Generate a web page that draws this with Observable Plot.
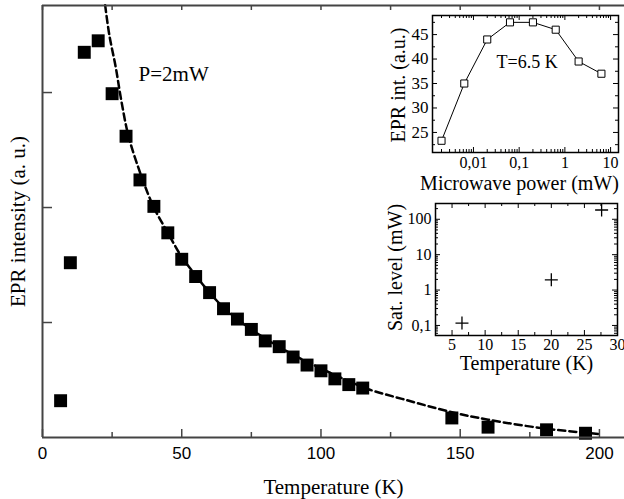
<!DOCTYPE html>
<html><head><meta charset="utf-8">
<script src="https://cdn.jsdelivr.net/npm/d3@7"></script>
<script src="https://cdn.jsdelivr.net/npm/@observablehq/plot@0.6"></script>
<style>
body{margin:0;background:#fff;}
#wrap{position:relative;width:624px;height:499px;overflow:hidden;background:#fff;}
#wrap svg{position:absolute;overflow:visible;}
</style></head><body><div id="wrap"></div>
<script>
// ---------- main data ----------
const mainTemp = [6.5, 10, 15, 20, 25, 30, 35, 40, 45, 50, 55, 60, 65, 70, 75, 80, 85, 90, 95, 100, 105, 110, 115, 147, 160, 181, 195];
const mainInt  = [0.32, 1.52, 3.35, 3.45, 2.99, 2.62, 2.24, 2.01, 1.78, 1.55, 1.40, 1.26, 1.12, 1.03, 0.94, 0.84, 0.79, 0.70, 0.63, 0.58, 0.51, 0.46, 0.43, 0.17, 0.09, 0.067, 0.037];
// dashed fit curve
const fitTemp = [22.5, 24, 26.3, 28.3, 31, 36, 40, 45, 50, 55, 60, 65, 70, 75, 80, 90, 100, 110, 117, 130, 147, 160, 181, 200];
const fitInt  = [3.76, 3.50, 3.22, 2.93, 2.61, 2.24, 2.00, 1.78, 1.57, 1.41, 1.26, 1.13, 1.03, 0.94, 0.86, 0.72, 0.60, 0.49, 0.42, 0.33, 0.22, 0.155, 0.076, 0.03];
const mainXTicks = [0, 50, 100, 150, 200];
const mainXMinor = [25, 75, 125, 175];
const mainYTicks = [1, 2, 3];
const mainXLabel = "Temperature (K)";
const mainYLabel = "EPR intensity (a. u.)";
const mainNote = "P=2mW";

// ---------- inset 1 data ----------
const powerMW  = [0.002, 0.0063, 0.02, 0.063, 0.2, 0.63, 2, 6.3];
const powerInt = [23.3, 35.0, 44.0, 47.5, 47.5, 46.0, 39.5, 37.0];
const in1XTicks = [0.01, 0.1, 1, 10];
const in1XTickLabels = ["0,01", "0,1", "1", "10"];
const in1YTicks = [25, 30, 35, 40, 45];
const in1XLabel = "Microwave power (mW)";
const in1YLabel = "EPR int. (a.u.)";
const in1Note = "T=6.5 K";

// ---------- inset 2 data ----------
const satTemp  = [6.5, 20, 27.6];
const satLevel = [0.117, 1.95, 183];
const in2XTicks = [5, 10, 15, 20, 25, 30];
const in2YTicks = [0.1, 1, 10, 100];
const in2YTickLabels = ["0,1", "1", "10", "100"];
const in2XLabel = "Temperature (K)";
const in2YLabel = "Sat. level (mW)";

// ---------- build ----------
const serif = "Liberation Serif";
const sans = "Liberation Sans";
const wrap = document.getElementById("wrap");

const pts = mainTemp.map((t, i) => ({t, v: mainInt[i]}));
const fit = fitTemp.map((t, i) => ({t, v: fitInt[i]}));

const W = 624, H = 499, mL = 42, mT = 5, mB = 62;
const fhMain = H - mT - mB, fwMain = W - mL;
const yTop = 3.757;
const axisCol = "#444";

const main = Plot.plot({
  width: W, height: H, marginLeft: mL, marginTop: mT, marginBottom: mB, marginRight: 0,
  style: {background: "transparent", fontFamily: sans, overflow: "visible"},
  x: {domain: [0, 209]},
  y: {domain: [0, yTop], axis: null},
  marks: [
    Plot.line(fit, {x: "t", y: "v", stroke: "black", strokeWidth: 2.5, strokeDasharray: "7,4", curve: "catmull-rom"}),
    Plot.dot(pts, {x: "t", y: "v", symbol: "square", r: 7.3, fill: "black", stroke: "none"}),
    Plot.tickX(mainXTicks, {x: d => d, insetTop: fhMain - 8, stroke: axisCol, strokeWidth: 1.5}),
    Plot.tickX(mainXMinor, {x: d => d, insetTop: fhMain - 5, stroke: axisCol, strokeWidth: 1.5}),
    Plot.tickX([...mainXTicks, ...mainXMinor], {x: d => d, insetBottom: fhMain - 5, stroke: axisCol, strokeWidth: 1.5}),
    Plot.tickY(mainYTicks, {y: d => d, insetRight: fwMain - 10, stroke: axisCol, strokeWidth: 1.5}),
    Plot.ruleX([0], {stroke: axisCol, strokeWidth: 2}),
    Plot.ruleY([0], {stroke: axisCol, strokeWidth: 2}),
    Plot.ruleY([yTop], {stroke: axisCol, strokeWidth: 2}),
    Plot.axisX({ticks: mainXTicks, tickSize: 0, tickPadding: 9, fontSize: 17, fontFamily: sans, label: null}),
    Plot.text([mainXLabel], {frameAnchor: "bottom", dy: 50, lineAnchor: "middle", textAnchor: "middle", fontFamily: serif, fontSize: 21, fill: "black"}),
    Plot.text([mainYLabel], {frameAnchor: "left", rotate: -90, dx: -24, lineAnchor: "middle", textAnchor: "middle", fontFamily: serif, fontSize: 21, fill: "black"}),
    Plot.text([mainNote], {x: 34.5, y: 3.16, textAnchor: "start", fontFamily: serif, fontSize: 21, fill: "black"})
  ]
});
main.style.left = "0px"; main.style.top = "0px";
wrap.appendChild(main);

// minor log ticks helper
function logMinor(lo, hi) {
  const out = [];
  for (let e = Math.floor(Math.log10(lo)); e <= Math.ceil(Math.log10(hi)); e++) {
    for (let m = 2; m <= 9; m++) {
      const v = m * Math.pow(10, e);
      if (v > lo && v < hi) out.push(v);
    }
  }
  return out;
}

// ---------- inset 1 ----------
{
  const w = 254, h = 195, ml = 62, mr = 6, mt = 15, mb = 43;
  const fw = w - ml - mr, fh = h - mt - mb;
  const xd = [0.00127, 14.9], yd = [20.9, 48.9];
  const data = powerMW.map((p, i) => ({p, v: powerInt[i]}));
  const yMinor = in1YTicks.map(d => d - 2.5).concat([47.5]);
  const xMinor = logMinor(xd[0], xd[1]);
  const lab = new Map(in1XTicks.map((t, i) => [t, in1XTickLabels[i]]));
  const p = Plot.plot({
    width: w, height: h, marginLeft: ml, marginRight: mr, marginTop: mt, marginBottom: mb,
    style: {background: "transparent", fontFamily: serif, overflow: "visible"},
    x: {type: "log", domain: xd},
    y: {domain: yd},
    marks: [
      Plot.frame({stroke: "black", strokeWidth: 1.5}),
      Plot.tickX(in1XTicks, {x: d => d, insetTop: fh - 5, stroke: "black"}),
      Plot.tickX(in1XTicks, {x: d => d, insetBottom: fh - 5, stroke: "black"}),
      Plot.tickX(xMinor, {x: d => d, insetTop: fh - 3, stroke: "black"}),
      Plot.tickX(xMinor, {x: d => d, insetBottom: fh - 3, stroke: "black"}),
      Plot.tickY(in1YTicks, {y: d => d, insetRight: fw - 5, stroke: "black"}),
      Plot.tickY(in1YTicks, {y: d => d, insetLeft: fw - 5, stroke: "black"}),
      Plot.tickY(yMinor, {y: d => d, insetRight: fw - 3, stroke: "black"}),
      Plot.tickY(yMinor, {y: d => d, insetLeft: fw - 3, stroke: "black"}),
      Plot.line(data, {x: "p", y: "v", stroke: "black", strokeWidth: 1}),
      Plot.dot(data, {x: "p", y: "v", symbol: "square", r: 4, fill: "white", stroke: "black", strokeWidth: 1}),
      Plot.axisX({ticks: in1XTicks, tickFormat: d => lab.get(d), tickSize: 0, tickPadding: 4, fontSize: 16, fontFamily: serif, label: null}),
      Plot.axisY({ticks: in1YTicks, tickSize: 0, tickPadding: 4, fontSize: 17, fontFamily: serif, label: null}),
      Plot.text([in1XLabel], {frameAnchor: "bottom", dy: 31, dx: -6, lineAnchor: "middle", textAnchor: "middle", fontFamily: serif, fontSize: 20, fill: "black"}),
      Plot.text([in1YLabel], {frameAnchor: "left", rotate: -90, dx: -34, dy: 1, lineAnchor: "middle", textAnchor: "middle", fontFamily: serif, fontSize: 20, fill: "black"}),
      Plot.text([in1Note], {x: 0.0319, y: 39.3, textAnchor: "start", fontFamily: serif, fontSize: 18, fill: "black"})
    ]
  });
  p.style.left = "370px"; p.style.top = "0px";
  wrap.appendChild(p);
}

// ---------- inset 2 ----------
{
  const w = 254, h = 190, ml = 65, mr = 7, mt = 8, mb = 50;
  const fw = w - ml - mr, fh = h - mt - mb;
  const xd = [2.5, 30], yd = [0.052, 279];
  const data = satTemp.map((t, i) => ({t, s: satLevel[i]}));
  const xMinor = in2XTicks.map(d => d - 2.5).filter(d => d > xd[0]);
  const yMinor = logMinor(yd[0], yd[1]);
  const lab = new Map(in2YTicks.map((t, i) => [t, in2YTickLabels[i]]));
  const plus = {draw(ctx, size) { const r = Math.sqrt(size / Math.PI); ctx.moveTo(-r, 0); ctx.lineTo(r, 0); ctx.moveTo(0, -r); ctx.lineTo(0, r); }};
  const p = Plot.plot({
    width: w, height: h, marginLeft: ml, marginRight: mr, marginTop: mt, marginBottom: mb,
    style: {background: "transparent", fontFamily: serif, overflow: "visible"},
    x: {domain: xd},
    y: {type: "log", domain: yd},
    marks: [
      Plot.frame({stroke: "black", strokeWidth: 1.5}),
      Plot.tickX(in2XTicks, {x: d => d, insetTop: fh - 5, stroke: "black"}),
      Plot.tickX(in2XTicks, {x: d => d, insetBottom: fh - 5, stroke: "black"}),
      Plot.tickX(xMinor, {x: d => d, insetTop: fh - 3, stroke: "black"}),
      Plot.tickX(xMinor, {x: d => d, insetBottom: fh - 3, stroke: "black"}),
      Plot.tickY(in2YTicks, {y: d => d, insetRight: fw - 5, stroke: "black"}),
      Plot.tickY(in2YTicks, {y: d => d, insetLeft: fw - 5, stroke: "black"}),
      Plot.tickY(yMinor, {y: d => d, insetRight: fw - 3, stroke: "black"}),
      Plot.tickY(yMinor, {y: d => d, insetLeft: fw - 3, stroke: "black"}),
      Plot.dot(data, {x: "t", y: "s", symbol: plus, r: 6.5, fill: "none", stroke: "black", strokeWidth: 1.3}),
      Plot.axisX({ticks: in2XTicks, tickSize: 0, tickPadding: 3, fontSize: 16, fontFamily: serif, label: null}),
      Plot.axisY({ticks: in2YTicks, tickFormat: d => lab.get(d), tickSize: 0, tickPadding: 4, fontSize: 16, fontFamily: serif, label: null}),
      Plot.text([in2XLabel], {frameAnchor: "bottom", dy: 28, lineAnchor: "middle", textAnchor: "middle", fontFamily: serif, fontSize: 20, fill: "black"}),
      Plot.text([in2YLabel], {frameAnchor: "left", rotate: -90, dx: -40, dy: -2, lineAnchor: "middle", textAnchor: "middle", fontFamily: serif, fontSize: 20, fill: "black"})
    ]
  });
  p.style.left = "370px"; p.style.top = "195px";
  wrap.appendChild(p);
}
</script></body></html>
